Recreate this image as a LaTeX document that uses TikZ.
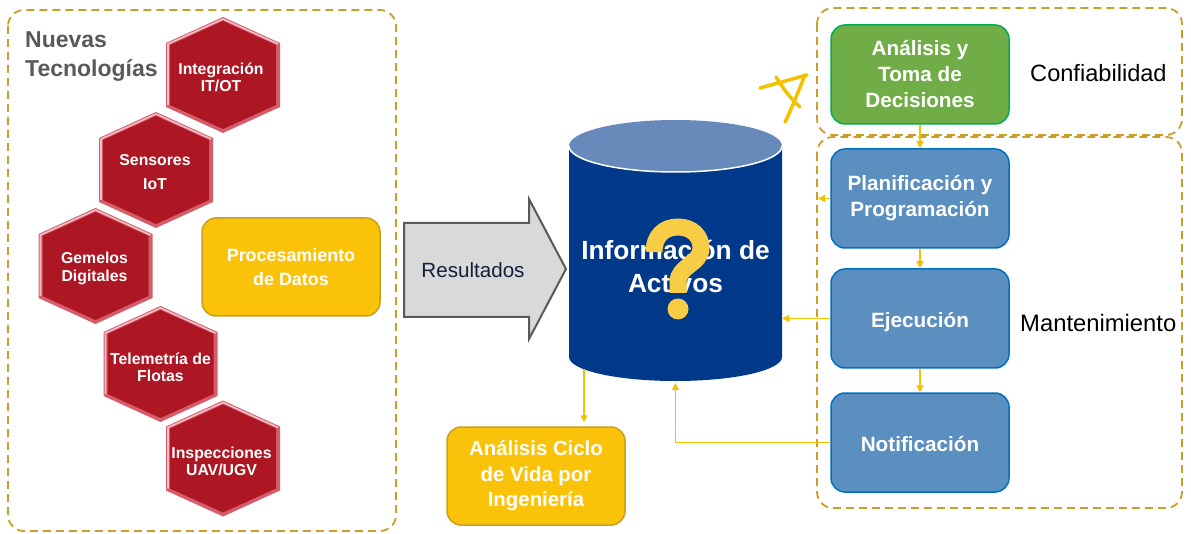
\documentclass[tikz,border=0pt]{standalone}
\usepackage{fontspec}
\setmainfont{Liberation Sans}
\usetikzlibrary{arrows.meta}
\definecolor{dashc}{RGB}{200,160,40}
\definecolor{yfill}{RGB}{250,195,10}
\definecolor{ydraw}{RGB}{200,160,30}
\definecolor{gold}{RGB}{245,192,0}
\definecolor{hexred}{RGB}{173,23,36}
\definecolor{hexedge}{RGB}{214,92,106}
\definecolor{hexlight}{RGB}{245,190,198}
\definecolor{cylbody}{RGB}{0,56,138}
\definecolor{cyltop}{RGB}{104,138,187}
\definecolor{gfill}{RGB}{112,173,71}
\definecolor{gdraw}{RGB}{0,176,80}
\definecolor{bfill}{RGB}{91,143,192}
\definecolor{bdraw}{RGB}{0,112,192}
\definecolor{arrfill}{RGB}{217,217,217}
\definecolor{arrdraw}{RGB}{89,89,89}
\definecolor{navytext}{RGB}{20,30,60}
\definecolor{qmark}{RGB}{248,205,70}
\definecolor{titlegray}{RGB}{89,89,89}
\newcommand{\myhex}[4]{%
  \fill[hexedge] (#2,#3-58) -- (#2+57,#3-32) -- (#2+57,#3+32) -- (#2,#3+58) -- (#2-57,#3+32) -- (#2-57,#3-32) -- cycle;
  \draw[hexlight, line width=1.6] (#2-55,#3+30) -- (#2-55,#3-31) -- (#2,#3-56) -- (#2+55,#3-31);
  \fill[hexred] (#2,#3-54) -- (#2+53,#3-30) -- (#2+53,#3+30) -- (#2,#3+54) -- (#2-53,#3+30) -- (#2-53,#3-30) -- cycle;
}
\tikzset{
  dashbox/.style={draw=dashc, line width=1.8, dash pattern=on 8pt off 5pt, rounded corners=16},
  hextext/.style={text=white, font=\bfseries\fontsize{15.8}{17}\selectfont, align=center, inner sep=0},
  ybox/.style={rounded corners=14, fill=yfill, draw=ydraw, line width=1.5, text=white, align=center, minimum width=178pt, minimum height=98pt, inner sep=0},
  gbox/.style={rounded corners=14, fill=gfill, draw=gdraw, line width=1.5, text=white, align=center, minimum width=178pt, minimum height=99pt, inner sep=0, font=\bfseries\fontsize{20.7}{26}\selectfont},
  bbox/.style={rounded corners=14, fill=bfill, draw=bdraw, line width=1.5, text=white, align=center, minimum width=178pt, minimum height=99pt, inner sep=0, font=\bfseries\fontsize{20.7}{26}\selectfont},
  onebox/.style={bbox, align=none, text height=18pt, text depth=0pt},
  garrow/.style={draw=gold, line width=1.3, -{Triangle[length=7pt,width=7pt]}},
}
\begin{document}
\begin{tikzpicture}[x=1pt,y=-1pt]
\useasboundingbox (0,0) rectangle (1191,534);
% dashed group boxes
\draw[dashbox] (8,10) rectangle (396,531);
\draw[dashbox] (817,8) rectangle (1182,135);
\draw[dashbox] (817,137) rectangle (1182,508);
% title
\node[anchor=north west, inner sep=0, align=left, text=titlegray, font=\bfseries\fontsize{23}{29}\selectfont] (title) at (25,31.5) {Nuevas\\Tecnologías};
% hexagons
\myhex{h1}{223}{75}{}
\node[hextext] (integ) at (221,77.5) {Integración\\IT/OT};
\myhex{h2}{156}{170}{}
\node[hextext, font=\bfseries\fontsize{15.8}{24}\selectfont] (sens) at (155,172.5) {Sensores\\IoT};
\myhex{h3}{95.5}{266}{}
\node[hextext, font=\bfseries\fontsize{15.8}{18}\selectfont] (gem) at (94.5,268.5) {Gemelos\\Digitales};
\myhex{h4}{160.5}{364}{}
\node[hextext] (tele) at (160.5,367) {Telemetría de\\Flotas};
\myhex{h5}{223}{458.5}{}
\node[hextext, font=\bfseries\fontsize{15.8}{16.5}\selectfont] (insp) at (221.5,461.5) {Inspecciones\\UAV/UGV};
% processing box
\node[ybox, font=\bfseries\fontsize{17.9}{23.5}\selectfont] (proc) at (291,267) {Procesamiento\\de Datos};
% big arrow
\filldraw[fill=arrfill, draw=arrdraw, line width=2] (404,223) -- (529,223) -- (529,199) -- (566,269) -- (529,339) -- (529,317) -- (404,317) -- cycle;
\node[text=navytext, font=\fontsize{20.6}{24}\selectfont, inner sep=0] (res) at (473,270) {Resultados};
% cylinder
\fill[cylbody] (569,146) -- (569,357) arc[start angle=180, end angle=0, x radius=106.5, y radius=24] -- (782,146) -- cycle;
\fill[cyltop] (675.5,146) ellipse[x radius=106.5, y radius=26];
\draw[white, line width=1.5] (569,146) arc[start angle=180, end angle=0, x radius=106.5, y radius=26];
\node[inner sep=0, minimum width=213pt, minimum height=261pt] (cyl) at (675.5,250.5) {};
\node[text=white, align=center, inner sep=0, font=\bfseries\fontsize{26.3}{33}\selectfont] (info) at (675.5,266) {Información de\\Activos};
% question mark
\draw[qmark, line width=17] (654,252) .. controls (654,236) and (664,227) .. (678,227) .. controls (692,227) and (701,236) .. (701,248) .. controls (701,264) and (678,266) .. (678,282) -- (678,293);
\fill[qmark] (678,309) circle[radius=10.5];
% life cycle box
\node[ybox, font=\bfseries\fontsize{20.4}{25.5}\selectfont] (ciclo) at (536,476) {Análisis Ciclo\\de Vida por\\Ingeniería};
% right boxes
\node[gbox] (anal) at (920,74.5) {Análisis y\\Toma de\\Decisiones};
\node[bbox] (plan) at (920,198.5) {Planificación y\\Programación};
\node[onebox] (ejec) at (920,318.5) {Ejecución};
\node[onebox] (notif) at (920,442.5) {Notificación};
\node[anchor=base west, inner sep=0, font=\fontsize{23.6}{26}\selectfont] (conf) at (1030,82) {Confiabilidad};
\node[anchor=base west, inner sep=0, font=\fontsize{23.8}{27}\selectfont] (mant) at (1020,332) {Mantenimiento};
% scribble
\draw[gold, line width=3.5, line cap=round] (760,88) -- (807,75);
\draw[gold, line width=3.5, line cap=round] (776,77) .. controls (784,90) and (792,100) .. (800,107);
\draw[gold, line width=3.5, line cap=round] (805,75) .. controls (798,92) and (792,108) .. (785,122);
% connectors
\coordinate (planend) at (818,198.5);
\coordinate (cylout) at (584,369);
\coordinate (cylbot) at (675.5,383);
\draw[garrow] (anal.south) -- (plan.north);
\draw[garrow] (plan.south) -- (ejec.north);
\draw[garrow] (ejec.south) -- (notif.north);
\draw[garrow] (plan.west) -- (planend);
\draw[garrow] (ejec.west) -- (ejec.west -| cyl.east);
\draw[garrow] (notif.west) -| (cylbot);
\draw[garrow] (cylout) -- ([yshift=4pt]cylout |- ciclo.north);
\end{tikzpicture}
\end{document}
